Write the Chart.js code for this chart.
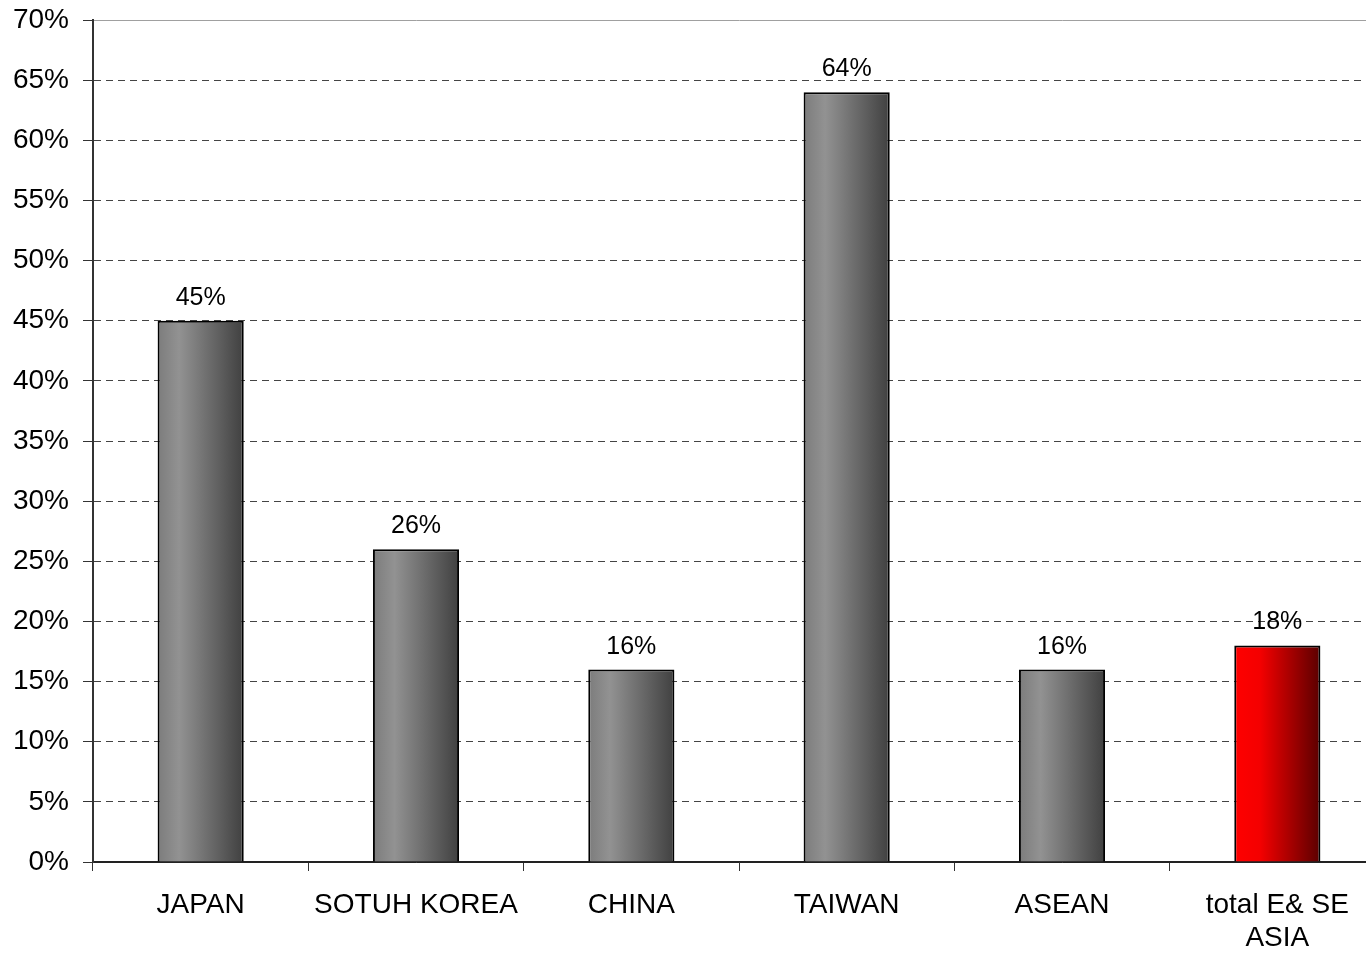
<!DOCTYPE html>
<html>
<head>
<meta charset="utf-8">
<style>
  html, body { margin: 0; padding: 0; background: #fff; overflow: hidden; }
  #wrap { width: 1366px; height: 955px; position: relative; overflow: hidden; }
  #c { display: block; }
</style>
<script src="https://cdn.jsdelivr.net/npm/chart.js@4/dist/chart.umd.min.js"></script>
</head>
<body>
<!-- the plot runs a little past the right edge of the frame -->
<div id="wrap"><canvas id="c" width="1385" height="955"></canvas></div>
<script>
// Share of each region (percent)
const categories = ['JAPAN', 'SOTUH KOREA', 'CHINA', 'TAIWAN', 'ASEAN', ['total E& SE', 'ASIA']];
const shares = [45, 26, 16, 64, 16, 18];
const highlighted = [false, false, false, false, false, true];
const yTicks = { min: 0, max: 70, step: 5 };

const FONT = '"Liberation Sans", Arial, Helvetica, sans-serif';
const BAR_PCT = 0.4;

function barFill(ctx) {
  const chart = ctx.chart;
  const area = chart.chartArea;
  const hot = highlighted[ctx.dataIndex];
  if (!area || !chart.scales.x) return hot ? '#d00000' : '#777';
  const xs = chart.scales.x;
  const cx = xs.getPixelForValue(ctx.dataIndex);
  const half = (xs.width / categories.length) * BAR_PCT / 2;
  const g = chart.ctx.createLinearGradient(cx - half, 0, cx + half, 0);
  if (hot) {
    g.addColorStop(0, '#ff0000');
    g.addColorStop(0.3, '#f40000');
    g.addColorStop(1, '#5a0000');
  } else {
    g.addColorStop(0, '#7c7c7c');
    g.addColorStop(0.25, '#929292');
    g.addColorStop(1, '#404040');
  }
  return g;
}

// Writes each bar's percentage above it
const valueLabels = {
  id: 'valueLabels',
  afterDatasetsDraw(chart) {
    const ctx = chart.ctx;
    const meta = chart.getDatasetMeta(0);
    ctx.save();
    ctx.font = '25px ' + FONT;
    ctx.fillStyle = '#000';
    ctx.textAlign = 'center';
    ctx.textBaseline = 'alphabetic';
    meta.data.forEach((bar, i) => {
      ctx.fillText(Math.round(shares[i]) + '%', bar.x, bar.y - 16);
    });
    ctx.restore();
  }
};

const solidLine = (c) => c.tick && (c.tick.value === yTicks.max || c.tick.value === yTicks.min);

new Chart(document.getElementById('c'), {
  type: 'bar',
  data: {
    labels: categories,
    datasets: [{
      data: shares,
      backgroundColor: barFill,
      borderColor: '#000',
      borderWidth: 2,
      barPercentage: BAR_PCT,
      categoryPercentage: 1
    }]
  },
  options: {
    responsive: false,
    animation: false,
    events: [],
    layout: { padding: { left: 0, right: 0, top: 20, bottom: 0 } },
    plugins: { legend: { display: false }, tooltip: { enabled: false } },
    scales: {
      x: {
        offset: true,
        afterFit: (s) => { s.height = 93; },
        grid: {
          offset: true,
          drawOnChartArea: false,
          drawTicks: true,
          tickLength: 9,
          tickColor: '#333',
          tickWidth: 1
        },
        border: { display: true, color: '#222', width: 1.5 },
        ticks: {
          color: '#000',
          font: { family: FONT, size: 28 },
          padding: 17,
          maxRotation: 0,
          autoSkip: false
        }
      },
      y: {
        min: yTicks.min,
        max: yTicks.max,
        afterFit: (s) => { s.width = 93; s.paddingTop = 0; s.paddingBottom = 0; },
        grid: {
          color: (c) => !c.tick ? '#444' :
            c.tick.value === yTicks.max ? '#a0a0a0' :
            c.tick.value === yTicks.min ? '#222' : '#444',
          lineWidth: 1,
          tickLength: 10,
          tickColor: '#333',
          tickWidth: 1
        },
        border: {
          display: true,
          color: '#333',
          width: 2,
          dash: (c) => solidLine(c) ? [] : [7, 5]
        },
        ticks: {
          stepSize: yTicks.step,
          color: '#000',
          font: { family: FONT, size: 28 },
          padding: 14,
          callback: (v) => v + '%'
        }
      }
    }
  },
  plugins: [valueLabels]
});
</script>
</body>
</html>
